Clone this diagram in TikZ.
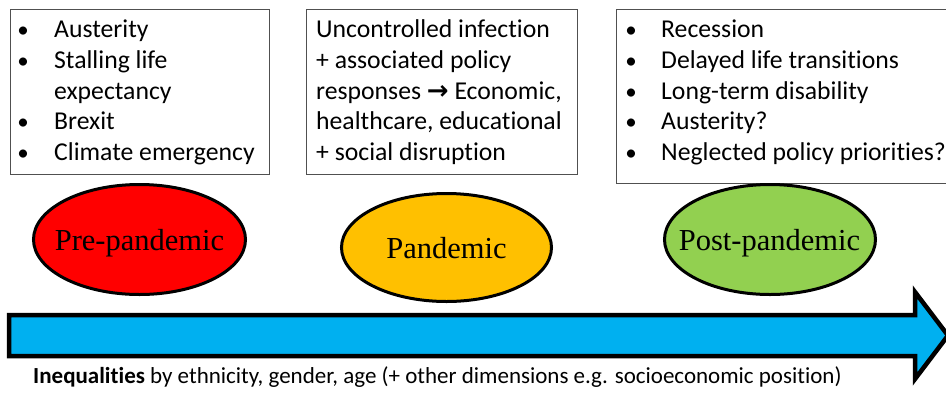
\documentclass[tikz,border=0pt]{standalone}
\usepackage{fontspec}
\setmainfont[Ligatures=NoCommon]{Carlito}
\newfontfamily\serifface{Liberation Serif}
\newfontfamily\symface{DejaVu Sans}
\usetikzlibrary{shapes.geometric}

\definecolor{phasered}{HTML}{FF0000}
\definecolor{phaseorange}{HTML}{FFC000}
\definecolor{phasegreen}{HTML}{92D050}
\definecolor{timeline}{HTML}{00B0F0}
\definecolor{boxline}{HTML}{505050}

\begin{document}
\begin{tikzpicture}[x=1pt,y=-1pt,
  infobox/.style={draw=boxline, line width=1.1pt, rectangle, inner sep=0pt, anchor=north west},
  boxtext/.style={font=\fontsize{25.7}{30}\selectfont, anchor=base west, inner sep=0pt},
  bulletmark/.style={font=\fontsize{23}{30}\selectfont, anchor=base, inner sep=0pt},
  phase/.style={ellipse, draw=black, line width=3pt, inner sep=0pt},
  phaselabel/.style={font=\serifface\fontsize{30.5}{34}\selectfont, anchor=base, inner sep=0pt},
  footnote/.style={font=\fontsize{23}{26}\selectfont, anchor=base west, inner sep=0pt}
]
\useasboundingbox (0,0) rectangle (946,392);

% the three context boxes
\node[infobox, minimum width=259.5pt, minimum height=165pt] (prebox) at (9.5,9) {};
\node[infobox, minimum width=271pt, minimum height=165pt] (panbox) at (306,9) {};
\node[infobox, minimum width=334pt, minimum height=174pt] (postbox) at (616,9) {};

% pre-pandemic list
\foreach \y/\t [count=\i] in {37/Austerity, 68/Stalling life, 129/Brexit, 160/Climate emergency}
  \node[boxtext] (pre-\i) at (54,\y) {\t};
\node[boxtext] (pre-wrap) at (54,99) {expectancy};
\foreach \y [count=\i] in {37,68,129,160}
  \node[bulletmark] (pre-b\i) at (23,\y) {•};

% pandemic description
\node[boxtext] (pan-1) at (316,37) {Uncontrolled infection};
\node[boxtext] (pan-2) at (316,68) {+ associated policy};
\node[boxtext] (pan-3) at (316,99) {responses {\symface\bfseries\fontsize{26}{30}\selectfont →} Economic,};
\node[boxtext] (pan-4) at (316,129) {healthcare, educational};
\node[boxtext] (pan-5) at (316,160) {+ social disruption};

% post-pandemic list
\foreach \y/\t [count=\i] in {37/Recession, 68/Delayed life transitions, 99/Long-term disability, 129/Austerity?, 160/Neglected policy priorities?} {
  \node[boxtext] (post-\i) at (661,\y) {\t};
  \node[bulletmark] (post-b\i) at (631,\y) {•};
}

% timeline arrow
\draw[line width=4.5pt, fill=timeline, line join=miter]
  (9,315) -- (915,315) -- (915,292) -- (948,335.5) -- (915,379) -- (915,356) -- (9,356) -- cycle;

% phase ellipses
\node[phase, fill=phasered, minimum width=212pt, minimum height=110pt] (pre) at (139.5,239.5) {};
\node[phase, fill=phaseorange, minimum width=210pt, minimum height=108pt] (pan) at (446.5,247.5) {};
\node[phase, fill=phasegreen, minimum width=211pt, minimum height=110pt] (post) at (770,239.5) {};
\node[phaselabel] (pre-label) at (139.5,250) {Pre-pandemic};
\node[phaselabel] (pan-label) at (446.5,258) {Pandemic};
\node[phaselabel] (post-label) at (769.5,250) {Post-pandemic};

% caption under the arrow
\node[footnote] (ineq) at (33,383) {\textbf{Inequalities} by ethnicity, gender, age (+ other dimensions e.g. socioeconomic position)};
\end{tikzpicture}
\end{document}
